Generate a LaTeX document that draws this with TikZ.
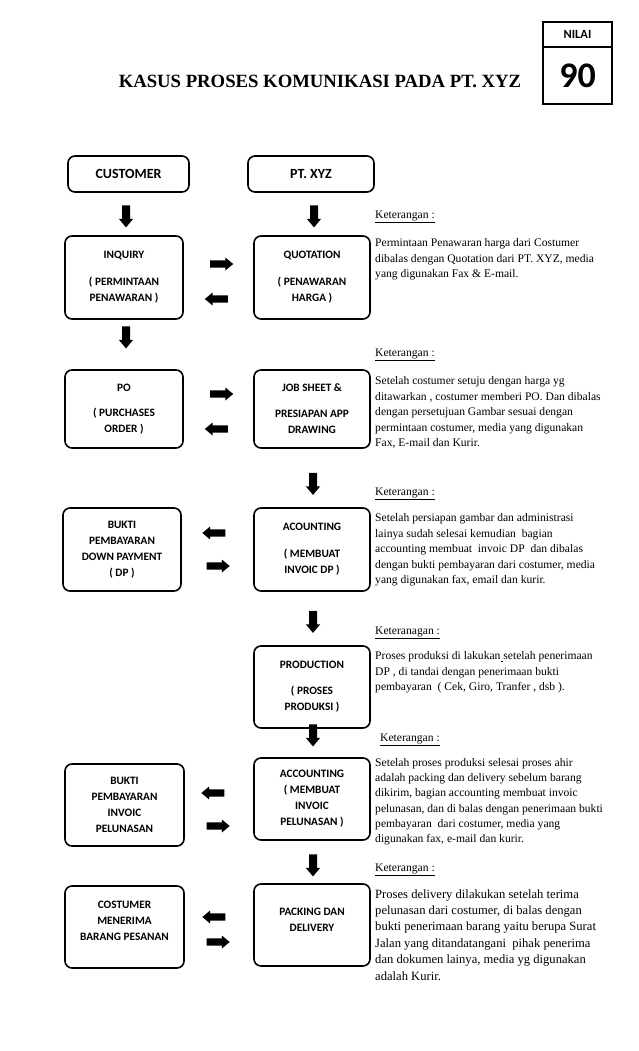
\documentclass[tikz,border=0pt]{standalone}
\usepackage{fontspec}
\setmainfont{Liberation Serif}
\newfontfamily\carl{Carlito}
\usetikzlibrary{shapes.arrows}
\begin{document}
\begin{tikzpicture}[x=1pt,y=-1pt,
  box/.style={draw, line width=1.6pt, rounded corners=7pt, align=center,
    inner sep=0pt, font=\carl\bfseries\fontsize{11.3}{16}\selectfont},
  hbox/.style={box, font=\carl\bfseries\fontsize{14}{16}\selectfont},
  barrow/.style={single arrow, fill=black, draw=none, inner sep=0pt,
    text width=0pt, text height=3.4pt, text depth=3.4pt,
    minimum width=12.5pt, minimum height=23pt, single arrow head extend=2.9pt,
    single arrow tip angle=80},
  darrow/.style={barrow, rotate=-90, minimum height=22pt,
    text height=3.8pt, text depth=3.8pt, minimum width=14pt, single arrow head extend=3.2pt},
  rarrow/.style={barrow},
  larrow/.style={barrow, rotate=180},
  head/.style={anchor=base west, inner sep=0pt, font=\fontsize{11.6}{15.5}\selectfont},
  body/.style={anchor=base west, inner sep=0pt, font=\fontsize{11.6}{15.5}\selectfont},
]
\useasboundingbox[fill=white] (0,0) rectangle (638,1051);

% header
\node[font=\bfseries\fontsize{18.7}{20}\selectfont, anchor=base, inner sep=0pt] (title) at (320,88) {KASUS PROSES KOMUNIKASI PADA PT. XYZ};
\node[draw, line width=1.6pt, minimum width=69pt, minimum height=25pt, inner sep=0pt, font=\carl\bfseries\fontsize{12.5}{14}\selectfont] (nilai) at (577.5,34.5) {NILAI};
\node[draw, line width=1.6pt, minimum width=69pt, minimum height=57pt, inner sep=0pt, font=\carl\bfseries\fontsize{36}{40}\selectfont] (score) at (577.5,75.5) {90};

% column heads
\node[hbox, minimum width=121pt, minimum height=36pt] (cust) at (128.5,174) {CUSTOMER};
\node[hbox, minimum width=126pt, minimum height=36pt] (ptx) at (311,174) {PT. XYZ};

% boxes
\node[box, minimum width=118pt, minimum height=83pt] (inq) at (124,277.5) {INQUIRY\\[11pt]( PERMINTAAN\\PENAWARAN )};
\node[box, minimum width=116pt, minimum height=83pt] (quo) at (312,277.5) {QUOTATION\\[11pt]( PENAWARAN\\HARGA )};
\node[box, minimum width=118pt, minimum height=78pt] (po) at (124,409) {PO\\[9pt]( PURCHASES\\ORDER )};
\node[box, minimum width=116pt, minimum height=78pt] (job) at (312,409) {JOB SHEET \&\\[10pt]PRESIAPAN APP\\DRAWING};
\node[box, minimum width=118pt, minimum height=83pt] (bdp) at (122,549.5) {BUKTI\\PEMBAYARAN\\DOWN PAYMENT\\( DP )};
\node[box, minimum width=116pt, minimum height=83pt] (acc1) at (312,549.5) {ACOUNTING\\[11pt]( MEMBUAT\\INVOIC DP )};
\node[box, minimum width=116pt, minimum height=82pt] (prod) at (312,687) {PRODUCTION\\[10pt]( PROSES\\PRODUKSI )};
\node[box, minimum width=116pt, minimum height=82pt] (acc2) at (312,799) {ACCOUNTING\\( MEMBUAT\\INVOIC\\PELUNASAN )};
\node[box, minimum width=119pt, minimum height=82pt] (bpel) at (124.5,805) {BUKTI\\PEMBAYARAN\\INVOIC\\PELUNASAN};
\node[box, minimum width=119pt, minimum height=82pt] (cos) at (124.5,927) {COSTUMER\\MENERIMA\\BARANG PESANAN\\[-4pt]\mbox{}};
\node[box, minimum width=116pt, minimum height=82pt] (pack) at (312,925) {PACKING DAN\\DELIVERY\\[-5pt]\mbox{}};

% block arrows
\node[darrow] (d1) at (126,214) {};
\node[darrow] (d2) at (314,214) {};
\node[rarrow] (h1) at (219.5,264) {};
\node[larrow] (h2) at (218.5,299) {};
\node[darrow] (d3) at (126,335) {};
\node[rarrow] (h3) at (219.5,394) {};
\node[larrow] (h4) at (218.5,429) {};
\node[darrow] (d4) at (313,481.5) {};
\node[larrow] (h5) at (216,533) {};
\node[rarrow] (h6) at (216,566) {};
\node[darrow] (d5) at (313,619.5) {};
\node[darrow] (d6) at (313,733) {};
\node[larrow] (h7) at (215,793) {};
\node[rarrow] (h8) at (216,826) {};
\node[darrow] (d7) at (313,863) {};
\node[larrow] (h9) at (216,917) {};
\node[rarrow] (h10) at (216,942) {};

% explanations
\node[head] (k1h) at (375,218.5) {\underline{Keterangan :}};
\node[body] (k1) at (375,246.5) {\begin{tabular}[t]{@{}l@{}}
Permintaan Penawaran harga dari Costumer\\
dibalas dengan Quotation dari PT. XYZ, media\\
yang digunakan Fax \& E-mail.
\end{tabular}};

\node[head] (k2h) at (375,356) {\underline{Keterangan :}};
\node[body] (k2) at (375,384.5) {\begin{tabular}[t]{@{}l@{}}
Setelah costumer setuju dengan harga yg\\
ditawarkan , costumer memberi PO. Dan dibalas\\
dengan persetujuan Gambar sesuai dengan\\
permintaan costumer, media yang digunakan\\
Fax, E-mail dan Kurir.
\end{tabular}};

\node[head] (k3h) at (375,495) {\underline{Keterangan :}};
\node[body] (k3) at (375,521.5) {\begin{tabular}[t]{@{}l@{}}
Setelah persiapan gambar dan administrasi\\
lainya sudah selesai kemudian\ \ bagian\\
accounting membuat\ \ invoic DP\ \ dan dibalas\\
dengan bukti pembayaran dari costumer, media\\
yang digunakan fax, email dan kurir.
\end{tabular}};

\node[head] (k4h) at (375,634) {\underline{Keteranagan :}};
\node[body] (k4) at (375,659.5) {\begin{tabular}[t]{@{}l@{}}
Proses produksi di lakukan\underline{\ }setelah penerimaan\\
DP , di tandai dengan penerimaan bukti\\
pembayaran\ \ ( Cek, Giro, Tranfer , dsb ).
\end{tabular}};

\node[head] (k5h) at (380,741) {\underline{Keterangan :}};
\node[body, font=\fontsize{11.6}{15.2}\selectfont] (k5) at (375,766.5) {\begin{tabular}[t]{@{}l@{}}
Setelah proses produksi selesai proses ahir\\
adalah packing dan delivery sebelum barang\\
dikirim, bagian accounting membuat invoic\\
pelunasan, dan di balas dengan penerimaan bukti\\
pembayaran\ \ dari costumer, media yang\\
digunakan fax, e-mail dan kurir.
\end{tabular}};

\node[head] (k6h) at (375,871) {\underline{Keterangan :}};
\node[body, font=\fontsize{12.6}{16.4}\selectfont] (k6) at (375,898) {\begin{tabular}[t]{@{}l@{}}
Proses delivery dilakukan setelah terima\\
pelunasan dari costumer, di balas dengan\\
bukti penerimaan barang yaitu berupa Surat\\
Jalan yang ditandatangani\ \ pihak penerima\\
dan dokumen lainya, media yg digunakan\\
adalah Kurir.
\end{tabular}};
\end{tikzpicture}
\end{document}
